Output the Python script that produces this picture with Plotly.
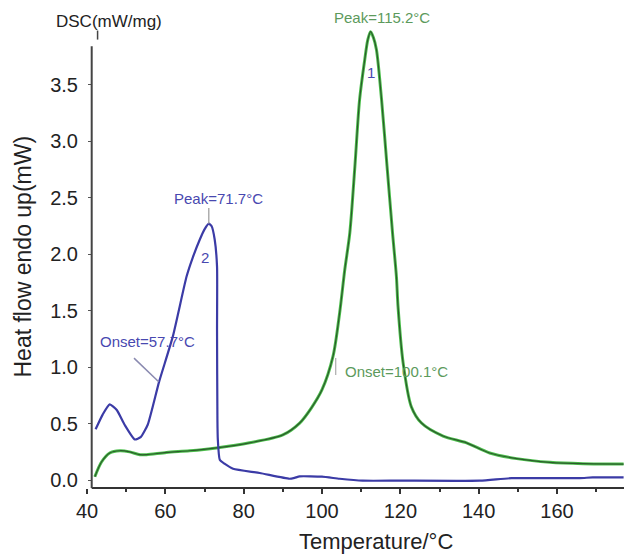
import plotly.graph_objects as go

# Sample 2 (blue)
t_blue = [42.2, 44.0, 45.8, 47.6, 49.6, 52.2, 53.7, 55.5, 58.4, 61.9, 65.4, 67.0, 68.8, 70.0,
          71.1, 71.8, 72.6, 73.2, 73.2, 73.3, 73.4, 73.9, 75.1, 77.3, 84.1, 91.7, 93.0, 94.3,
          100.0, 104.5, 110.4, 119.8, 140.3, 148.4, 165.8, 169.1, 177.0]
hf_blue = [0.45, 0.58, 0.67, 0.62, 0.49, 0.36, 0.38, 0.49, 0.87, 1.27, 1.80, 1.97, 2.13, 2.22,
           2.27, 2.25, 2.13, 1.89, 1.33, 0.53, 0.36, 0.18, 0.145, 0.10, 0.063, 0.012, 0.02, 0.033,
           0.03, 0.012, -0.005, -0.005, -0.005, 0.017, 0.017, 0.024, 0.024]

# Sample 1 (green)
t_green = [42.0, 43.7, 45.8, 48.4, 50.9, 53.5, 55.2, 60.3, 66.2, 73.0, 81.5, 90.0, 94.3, 97.3,
           100.0, 102.8, 104.5, 105.8, 107.1, 108.4, 109.6, 110.9, 111.7, 112.4, 113.1, 113.9,
           115.2, 116.6, 118.0, 119.0, 119.4, 120.7, 122.8, 125.4, 130.9, 136.9, 142.8, 149.7,
           158.2, 166.7, 177.0]
hf_green = [0.03, 0.16, 0.24, 0.26, 0.25, 0.225, 0.225, 0.245, 0.26, 0.285, 0.33, 0.40, 0.505, 0.64,
            0.80, 1.095, 1.48, 1.86, 2.19, 2.78, 3.37, 3.72, 3.90, 3.97, 3.92, 3.81,
            3.37, 2.78, 2.19, 1.80, 1.54, 1.04, 0.65, 0.505, 0.39, 0.33, 0.24, 0.19,
            0.157, 0.145, 0.142]

x_ticks = [40, 60, 80, 100, 120, 140, 160]
y_ticks = [0.0, 0.5, 1.0, 1.5, 2.0, 2.5, 3.0, 3.5]

BLUE = "#3b3ba6"
BLUE_TXT = "#4848b0"
GREEN_TXT = "#5c9a5c"
FONT = "Liberation Sans, Arial, sans-serif"

fig = go.Figure()
fig.add_trace(go.Scatter(x=t_green, y=hf_green, mode="lines",
                         line=dict(color="#4cbf4c", width=3, shape="spline", smoothing=0.8),
                         hoverinfo="skip"))
fig.add_trace(go.Scatter(x=t_green, y=hf_green, mode="lines",
                         line=dict(color="#2c5a2c", width=1.2, shape="spline", smoothing=0.8)))
fig.add_trace(go.Scatter(x=t_blue, y=hf_blue, mode="lines",
                         line=dict(color=BLUE, width=2.2, shape="spline", smoothing=0.5)))

X0 = 41.2
fig.update_layout(
    width=624, height=557,
    margin=dict(l=87, r=0, t=17, b=69),
    plot_bgcolor="white", paper_bgcolor="white",
    showlegend=False,
    font=dict(family=FONT, color="#222222"),
    xaxis=dict(range=[40, 177.1], tickvals=x_ticks, ticks="outside", ticklen=5,
               tickwidth=1.5, tickcolor="#333", showgrid=False, zeroline=False,
               showline=False, tickfont=dict(size=20, color="#222"),
               minor=dict(dtick=10, tick0=0, ticks="outside", ticklen=3, tickcolor="#333")),
    yaxis=dict(range=[-0.07, 4.1], tickvals=y_ticks, tickformat=".1f", ticks="outside",
               ticklen=4, tickcolor="#555", showgrid=False, zeroline=False, showline=False,
               anchor="free", position=(92 - 87) / (624 - 87),
               tickfont=dict(size=20, color="#222"), ticklabelstandoff=6),
)

# axis lines
fig.add_shape(type="line", xref="x", yref="paper", x0=X0, x1=177.1, y0=0, y1=0,
              line=dict(color="#333", width=2))
fig.add_shape(type="line", xref="x", yref="y", x0=X0, x1=X0, y0=-0.07, y1=3.84,
              line=dict(color="#444", width=2))
fig.add_shape(type="line", xref="x", yref="y", x0=42.7, x1=42.7, y0=3.98, y1=3.90,
              line=dict(color="#444", width=1.5))

# leader lines
fig.add_shape(type="line", x0=52.0, y0=1.08, x1=58.3, y1=0.87,
              line=dict(color="#8a8ab0", width=1.5))
fig.add_shape(type="line", x0=71.1, y0=2.41, x1=71.1, y1=2.27,
              line=dict(color="#999", width=1.2))
fig.add_shape(type="line", x0=103.5, y0=1.08, x1=103.5, y1=0.93,
              line=dict(color="#aaa", width=1.2))

ann = [
    ("Peak=71.7°C", 73.6, 2.49, BLUE_TXT, 15),
    ("2", 70.2, 1.97, BLUE_TXT, 15),
    ("Onset=57.7°C", 55.5, 1.23, BLUE_TXT, 15),
    ("Peak=115.2°C", 115.4, 4.10, GREEN_TXT, 15),
    ("1", 112.4, 3.61, BLUE_TXT, 15),
    ("Onset=100.1°C", 119.0, 0.96, GREEN_TXT, 15),
]
for txt, ax_, ay_, col, sz in ann:
    fig.add_annotation(x=ax_, y=ay_, text=txt, showarrow=False,
                       xanchor="center", yanchor="middle",
                       font=dict(color=col, size=sz, family=FONT))

fig.add_annotation(x=45.6, y=4.06, text="DSC(mW/mg)", showarrow=False,
                   xanchor="center", yanchor="middle",
                   font=dict(size=17, color="#222", family=FONT))
fig.add_annotation(xref="paper", yref="paper", x=(22.5 - 87) / 537, y=(488 - 257) / 471,
                   text="Heat flow endo up(mW)", textangle=-90, showarrow=False,
                   xanchor="center", yanchor="middle",
                   font=dict(size=23, color="#222", family=FONT))
fig.add_annotation(xref="paper", yref="paper", x=(375.5 - 87) / 537, y=-(541 - 488) / 471,
                   text="Temperature/°C", showarrow=False,
                   xanchor="center", yanchor="middle",
                   font=dict(size=22, color="#222", family=FONT))

fig.write_html("out.html", config={"displayModeBar": False},
               post_script="document.body.style.margin='0';")
